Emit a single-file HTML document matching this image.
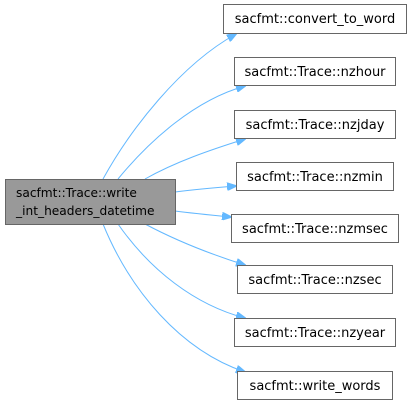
<!DOCTYPE html>
<html><head><style>body{margin:0;background:#fff}</style></head><body>
<svg width="411" height="402" xmlns="http://www.w3.org/2000/svg" font-family="DejaVu Sans, Liberation Sans, sans-serif" font-size="13">
<defs><marker id="a" markerWidth="10" markerHeight="8" refX="9" refY="4" orient="auto" markerUnits="userSpaceOnUse"><path d="M0,0L10,4L0,8z" fill="#63b8ff" stroke="#63b8ff"/></marker></defs>
<g fill="none" stroke="#63b8ff" stroke-width="1">
<path d="M103,179C130,130 180,65 236,34" marker-end="url(#a)"/>
<path d="M118,179C150,140 195,100 245,86" marker-end="url(#a)"/>
<path d="M145,179C175,162 210,150 245,139" marker-end="url(#a)"/>
<path d="M175,192C190,190 210,188 236,186" marker-end="url(#a)"/>
<path d="M175,211C190,213 210,215 231,217" marker-end="url(#a)"/>
<path d="M145,224C175,240 210,254 245,265" marker-end="url(#a)"/>
<path d="M118,224C150,270 195,305 245,318" marker-end="url(#a)"/>
<path d="M103,224C130,290 180,350 245,372" marker-end="url(#a)"/>
</g>
<rect x="5.5" y="179.5" width="170" height="45" fill="#999" stroke="#666"/>
<text x="16" y="197" font-size="12.2">sacfmt::Trace::write</text>
<text x="16" y="215" font-size="12.2">_int_headers_datetime</text>
<g fill="#fff" stroke="#666">
<rect x="223.5" y="4.5" width="183" height="29"/>
<rect x="234.5" y="57.5" width="161" height="28"/>
<rect x="234.5" y="110.5" width="161" height="28"/>
<rect x="236.5" y="162.5" width="157" height="28"/>
<rect x="231.5" y="214.5" width="167" height="28"/>
<rect x="237.5" y="265.5" width="155" height="28"/>
<rect x="234.5" y="318.5" width="161" height="28"/>
<rect x="237.5" y="371.5" width="155" height="28"/>
</g>
<g text-anchor="middle" fill="#000">
<text x="315" y="23">sacfmt::convert_to_word</text>
<text x="315" y="76">sacfmt::Trace::nzhour</text>
<text x="315" y="129">sacfmt::Trace::nzjday</text>
<text x="315" y="181">sacfmt::Trace::nzmin</text>
<text x="315" y="233">sacfmt::Trace::nzmsec</text>
<text x="315" y="284">sacfmt::Trace::nzsec</text>
<text x="315" y="337">sacfmt::Trace::nzyear</text>
<text x="315" y="390">sacfmt::write_words</text>
</g>
</svg>
</body></html>
